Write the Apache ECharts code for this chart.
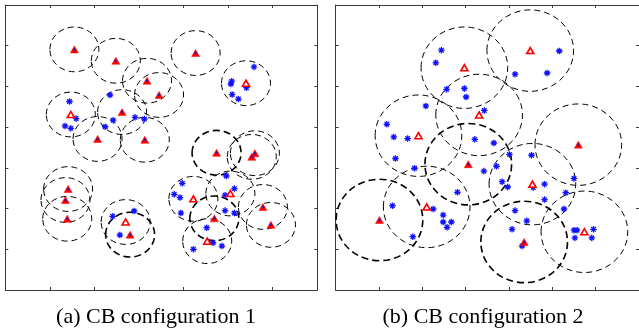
<!DOCTYPE html>
<html>
<head>
<meta charset="utf-8">
<script src="https://cdn.jsdelivr.net/npm/echarts@6/dist/echarts.min.js"></script>
<style>
  html, body { margin: 0; padding: 0; background: #fff; }
  #content { width: 639px; height: 329px; }
</style>
</head>
<body>
<div id="content"></div>
<script>
// 坐标轴范围和刻度
var axisMax = 7;
var axisStep = 1;

// 覆盖半径（两种配置）
var radiusA = 0.55;
var radiusB = 1.0;

// (a) 配置1：基站（实心、粗圈实心、空心）和用户
var leftFilled = [
    [1.55, 5.91], [2.48, 5.63], [3.18, 5.14], [3.45, 4.79], [4.27, 5.82],
    [2.62, 4.37], [2.07, 3.71], [3.13, 3.69], [5.60, 3.36], [5.53, 3.27],
    [1.41, 2.48], [1.35, 2.21], [1.39, 1.75], [5.78, 2.04], [5.96, 1.60]
];
var leftBold = [[4.74, 3.37], [2.80, 1.36], [4.69, 1.76]];
var leftHollow = [
    [5.40, 5.08], [1.47, 4.31], [2.70, 1.67], [4.22, 2.24], [5.05, 2.37], [4.53, 1.20]
];
var leftUsers = [
    [5.58, 5.48], [5.08, 5.13], [5.06, 5.06], [5.41, 4.97], [5.09, 4.80], [5.23, 4.69],
    [1.44, 4.63], [1.59, 4.21], [1.34, 4.03], [1.47, 3.97],
    [2.35, 4.79], [2.42, 4.17], [2.24, 4.01], [2.91, 4.24], [3.12, 4.20],
    [2.41, 1.81], [2.89, 1.94], [2.57, 1.35],
    [3.97, 2.62], [3.79, 2.35], [3.92, 2.27], [3.94, 1.89],
    [4.96, 2.80], [5.14, 2.49], [4.93, 2.33], [4.93, 1.95], [5.14, 1.89],
    [4.52, 1.53], [4.66, 1.16], [4.86, 1.08], [4.22, 1.00]
];

// (b) 配置2
var rightFilled = [[5.60, 3.57]];
var rightBold = [[3.06, 3.09], [1.01, 1.72], [4.35, 1.18]];
var rightHollow = [
    [2.97, 5.46], [4.49, 5.88], [3.31, 4.30], [1.91, 3.79], [4.54, 2.60], [2.10, 2.04], [5.74, 1.43]
];
var rightUsers = [
    [2.44, 5.89], [2.31, 5.58], [2.56, 4.93], [2.97, 4.95], [3.01, 4.74], [3.43, 4.41],
    [5.16, 5.87], [4.14, 5.30], [4.88, 5.33], [2.08, 4.52],
    [1.18, 4.07], [1.34, 3.76], [1.66, 3.72], [3.21, 3.70], [3.65, 3.61],
    [1.38, 3.23], [1.82, 2.99], [4.01, 3.33], [4.52, 3.31], [3.71, 3.04],
    [3.42, 2.92], [3.84, 2.66], [3.97, 2.53], [4.82, 2.60], [4.56, 2.52],
    [5.50, 2.74], [5.31, 2.39], [4.82, 2.22], [5.27, 1.99], [4.14, 1.95],
    [4.41, 1.70], [4.07, 1.49], [4.30, 1.08], [2.81, 2.40], [1.31, 2.07],
    [2.25, 1.99], [2.48, 1.84], [2.48, 1.67], [2.67, 1.67], [2.57, 1.54],
    [1.78, 1.31], [5.50, 1.47], [5.57, 1.47], [5.52, 1.28], [5.95, 1.49], [5.91, 1.28]
];

// 星号（MATLAB 的 '*'）
var starPath = 'path://M-1,-5h2v10h-2z M-5,-1h10v2h-10z ' +
    'M-2.8,-4.2L4.2,2.8L2.8,4.2L-4.2,-2.8Z M4.2,-2.8L-2.8,4.2L-4.2,2.8L2.8,-4.2Z';

var frameColor = '#3a3a3a';

function makeAxis(dir, pos, gridIndex) {
    return {
        type: 'value',
        gridIndex: gridIndex,
        position: pos,
        min: 0,
        max: axisMax,
        interval: axisStep,
        axisLine: { show: true, onZero: false, lineStyle: { color: frameColor, width: 1 } },
        axisTick: { show: true, inside: true, length: 3, lineStyle: { color: frameColor, width: 1 } },
        axisLabel: { show: false },
        splitLine: { show: false }
    };
}

// 画覆盖圆（虚线）
function circleSeries(data, r, axisIdx, width, dash) {
    return {
        type: 'custom',
        xAxisIndex: axisIdx,
        yAxisIndex: axisIdx,
        silent: true,
        data: data,
        renderItem: function(params, api) {
            var c = api.coord([api.value(0), api.value(1)]);
            var s = api.size([r, r]);
            return {
                type: 'ellipse',
                shape: { cx: c[0], cy: c[1], rx: s[0], ry: s[1] },
                style: { fill: 'none', stroke: '#000', lineWidth: width, lineDash: dash }
            };
        }
    };
}

function userSeries(data, axisIdx) {
    return {
        type: 'scatter',
        xAxisIndex: axisIdx,
        yAxisIndex: axisIdx,
        data: data,
        symbol: starPath,
        symbolSize: 6.5,
        itemStyle: { color: '#1010ff', opacity: 1 },
        silent: true
    };
}

function bsSeries(data, axisIdx, hollow) {
    return {
        type: 'scatter',
        xAxisIndex: axisIdx,
        yAxisIndex: axisIdx,
        data: data,
        symbol: 'triangle',
        symbolSize: hollow ? [7, 6] : [8, 7],
        itemStyle: hollow ?
            { color: '#fff', borderColor: '#ff0000', borderWidth: 1.6, opacity: 1 } :
            { color: '#ff0000', borderColor: '#ff0000', borderWidth: 0.5, opacity: 1 },
        silent: true
    };
}

function dotSeries(data, axisIdx) {
    return {
        type: 'scatter',
        xAxisIndex: axisIdx,
        yAxisIndex: axisIdx,
        data: data,
        symbol: 'circle',
        symbolSize: 2.5,
        itemStyle: { color: '#2020c0', opacity: 1 },
        silent: true
    };
}

var myChart = echarts.init(document.getElementById('content'), null, { renderer: 'canvas' });

// 每个面板：axis 0/1 是 (a)，2/3 是 (b)（第二根只是为了画上边/右边的刻度）
var series = [];
[
    { idx: 0, filled: leftFilled, bold: leftBold, hollow: leftHollow, users: leftUsers, r: radiusA },
    { idx: 2, filled: rightFilled, bold: rightBold, hollow: rightHollow, users: rightUsers, r: radiusB }
].forEach(function(p) {
    var thin = p.filled.concat(p.hollow);
    series.push(circleSeries(thin, p.r, p.idx, 1, [6, 4]));
    series.push(circleSeries(p.bold, p.r, p.idx, 1.6, [7, 4]));
    series.push(userSeries(p.users, p.idx));
    series.push(bsSeries(p.hollow, p.idx, true));
    series.push(bsSeries(p.filled.concat(p.bold), p.idx, false));
    series.push(dotSeries(p.filled.concat(p.bold), p.idx));
});

myChart.setOption({
    backgroundColor: '#fff',
    animation: false,
    grid: [
        { left: 5.3, top: 5, width: 312, height: 285 },
        { left: 335.7, top: 5, width: 305.8, height: 285 }
    ],
    xAxis: [
        makeAxis('x', 'bottom', 0), makeAxis('x', 'top', 0),
        makeAxis('x', 'bottom', 1), makeAxis('x', 'top', 1)
    ],
    yAxis: [
        makeAxis('y', 'left', 0), makeAxis('y', 'right', 0),
        makeAxis('y', 'left', 1), makeAxis('y', 'right', 1)
    ],
    series: series,
    graphic: [
        {
            type: 'text',
            style: {
                text: '(a) CB configuration 1',
                x: 156, y: 317,
                font: '22px "Liberation Serif"',
                textAlign: 'center',
                textVerticalAlign: 'middle',
                fill: '#000'
            }
        },
        {
            type: 'text',
            style: {
                text: '(b) CB configuration 2',
                x: 483, y: 317,
                font: '22px "Liberation Serif"',
                textAlign: 'center',
                textVerticalAlign: 'middle',
                fill: '#000'
            }
        }
    ]
});
</script>
</body>
</html>
